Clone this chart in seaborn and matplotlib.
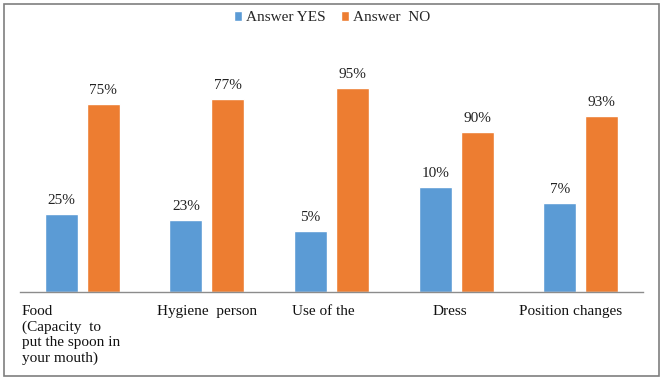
import matplotlib
matplotlib.use("Agg")
import matplotlib.pyplot as plt
from matplotlib.patches import Rectangle
import pandas as pd
import seaborn as sns

# -----------------------------
# Data
# -----------------------------
tasks = ["Food", "Hygiene person", "Use of the", "Dress", "Position changes"]
task_labels = [
    "Food\n(Capacity  to\nput the spoon in\nyour mouth)",
    "Hygiene  person",
    "Use of the",
    "Dress",
    "Position changes",
]
# bar heights as drawn in the picture (the chart is not drawn to scale)
yes_heights = [36.3, 33.5, 28.4, 48.8, 41.4]
no_heights = [87.4, 89.8, 94.9, 74.4, 81.9]
# printed value labels
yes_labels = ["25%", "23%", "5%", "10%", "7%"]
no_labels = ["75%", "77%", "95%", "90%", "93%"]
series = ["Answer YES", "Answer  NO"]
colors = ["#5B9BD5", "#ED7D31"]

df = pd.DataFrame({
    "task": tasks * 2,
    "height": yes_heights + no_heights,
    "answer": [series[0]] * len(tasks) + [series[1]] * len(tasks),
})

sns.set_style("white")
plt.rcParams["font.family"] = ["Liberation Serif", "DejaVu Serif"]

fig = plt.figure(figsize=(6.64, 3.8), dpi=100)
ax = fig.add_axes([0.0301, 0.2316, 0.9383, 0.5658])

sns.barplot(
    data=df, x="task", y="height", hue="answer",
    palette=colors, saturation=1, width=0.674, gap=0.214,
    ax=ax,
)

for cont, labs in zip(ax.containers, [yes_labels, no_labels]):
    ax.bar_label(cont, labels=labs, padding=5, fontsize=11, color="#222222")

ax.set_ylim(0, 100)
ax.set_xlim(-0.5, len(tasks) - 0.5)
ax.set_xlabel("")
ax.set_ylabel("")
ax.set_yticks([])
ax.set_xticks([])
for side in ["left", "right", "top"]:
    ax.spines[side].set_visible(False)
ax.spines["bottom"].set_color("#8c8c8c")
ax.spines["bottom"].set_linewidth(1)

# category labels under the axis (placed like the original text boxes)
label_pos = [(-0.485, "left"), (1.0, "center"), (1.683, "left"),
             (2.95, "center"), (3.505, "left")]
for (x, ha), text in zip(label_pos, task_labels):
    ax.text(x, -0.06, text, transform=ax.get_xaxis_transform(),
            ha=ha, va="top", fontsize=11, color="#111111",
            linespacing=1.22)

# legend at the top
handles, labels = ax.get_legend_handles_labels()
ax.get_legend().remove()
fig.legend(handles, labels, loc="center", bbox_to_anchor=(0.5, 0.953),
           ncol=2, frameon=False, fontsize=11, handlelength=0.55,
           handleheight=0.55, handletextpad=0.25, columnspacing=1.0,
           borderaxespad=0)

# outer chart border
fig.patches.append(Rectangle((4 / 664, 4 / 380), 655 / 664, 372 / 380,
                             transform=fig.transFigure, fill=False,
                             edgecolor="#7f7f7f", linewidth=1.2))

fig.savefig("out.png", dpi=100)
